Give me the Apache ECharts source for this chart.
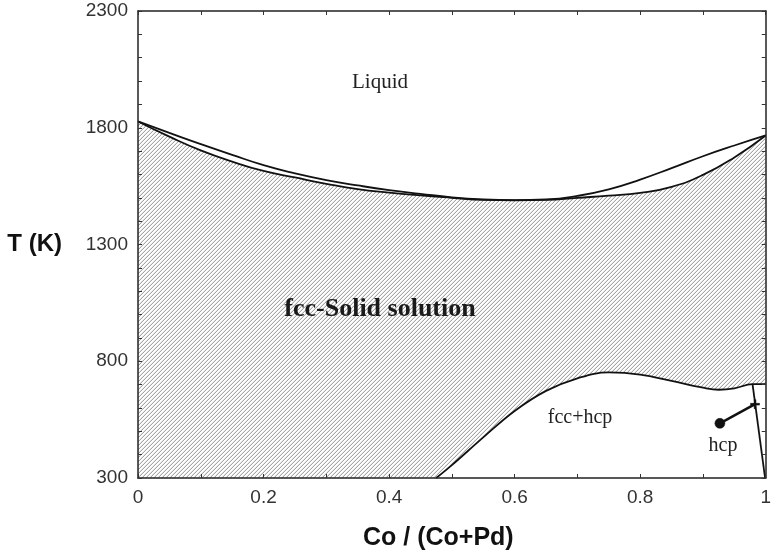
<!DOCTYPE html>
<html>
<head>
<meta charset="utf-8">
<title>Co-Pd phase diagram</title>
<script src="https://cdn.jsdelivr.net/npm/echarts@6/dist/echarts.min.js"></script>
<style>
  html, body { margin: 0; padding: 0; background: #fff; }
  #main { width: 774px; height: 559px; }
</style>
</head>
<body>
<div id="main"></div>
<script>
// 成分 Co/(Co+Pd)
const comp = [0, 0.05, 0.1, 0.15, 0.2, 0.25, 0.3, 0.35, 0.4, 0.45, 0.5,
  0.55, 0.6, 0.65, 0.7, 0.75, 0.8, 0.85, 0.9, 0.95, 1.0];
// 液相线 / 固相线 (K)
const liquidus = [1827, 1778, 1730, 1684, 1640, 1605, 1576, 1553, 1533, 1517, 1502,
  1493, 1490, 1493, 1508, 1536, 1578, 1627, 1678, 1724, 1767];
const solidus = [1827, 1762, 1703, 1655, 1615, 1587, 1560, 1537, 1522, 1510, 1500,
  1491, 1489, 1491, 1500, 1509, 1521, 1547, 1598, 1673, 1767];

// fcc / (fcc+hcp) 边界
const fccHcpX = [0.475, 0.5, 0.55, 0.6, 0.65, 0.7, 0.75, 0.8, 0.85, 0.9, 0.925, 0.95, 0.979, 1.0];
const fccHcpT = [300, 355, 474, 587, 673, 727, 752, 743, 716, 687, 678, 684, 702, 702];

// hcp 边界
const hcpX = [0.979, 0.999];
const hcpT = [702, 300];

// 连线 (圆点 -> 十字)
const tieX = [0.927, 0.983];
const tieT = [534, 616];

// 刻度
const xTicks = [0, 0.2, 0.4, 0.6, 0.8, 1];
const yTicks = [300, 800, 1300, 1800, 2300];

const pairs = (xs, ys) => xs.map((x, i) => [x, ys[i]]);

// 斜线填充图案
function hatch () {
  const n = 4;
  const c = document.createElement('canvas');
  c.width = n; c.height = n;
  const ctx = c.getContext('2d');
  const img = ctx.createImageData(n, n);
  for (let y = 0; y < n; y++) {
    for (let x = 0; x < n; x++) {
      const k = (x + y) % n;
      let v = 255;
      if (k === n - 1) v = 165;
      else if (k === n - 2) v = 232;
      const p = (y * n + x) * 4;
      img.data[p] = v; img.data[p + 1] = v; img.data[p + 2] = v; img.data[p + 3] = 255;
    }
  }
  ctx.putImageData(img, 0, 0);
  return c;
}

const black = '#111';
const axisCommon = {
  type: 'value',
  z: 10,
  splitLine: { show: false },
  axisLine: { show: true, onZero: false, lineStyle: { color: '#222', width: 1.5 } },
  axisTick: { show: true, inside: true, length: 4, lineStyle: { color: '#333' } }
};

const myChart = echarts.init(document.getElementById('main'));

const option = {
  animation: false,
  backgroundColor: '#fff',
  grid: { left: 138, right: 6, top: 11, bottom: 81 },
  xAxis: [
    Object.assign({}, axisCommon, {
      min: 0, max: 1, interval: 0.2, position: 'bottom',
      minorTick: { show: true, splitNumber: 2, length: 4, lineStyle: { color: '#333' } },
      axisLabel: {
        color: '#333', fontSize: 19, fontFamily: 'Liberation Sans', margin: 10,
        formatter: v => (xTicks.some(t => Math.abs(t - v) < 1e-6) ? String(v) : '')
      },
      name: 'Co / (Co+Pd)',
      nameLocation: 'middle',
      nameGap: 48,
      nameTextStyle: {
        color: '#111', fontSize: 25, fontWeight: 'bold', fontFamily: 'Liberation Sans',
        padding: [0, 27, 0, 0]
      }
    }),
    Object.assign({}, axisCommon, {
      min: 0, max: 1, interval: 0.2, position: 'top',
      minorTick: { show: true, splitNumber: 2, length: 4, lineStyle: { color: '#333' } },
      axisLabel: { show: false }
    })
  ],
  yAxis: [
    Object.assign({}, axisCommon, {
      min: 300, max: 2300, interval: 100, position: 'left',
      axisLabel: {
        color: '#333', fontSize: 19, fontFamily: 'Liberation Sans', margin: 10,
        formatter: v => (yTicks.includes(v) ? String(v) : '')
      },
      name: 'T (K)',
      nameLocation: 'middle',
      nameRotate: 0,
      nameGap: 76,
      nameTextStyle: { color: '#111', fontSize: 24, fontWeight: 'bold', fontFamily: 'Liberation Sans' }
    }),
    Object.assign({}, axisCommon, {
      min: 300, max: 2300, interval: 100, position: 'right',
      axisLabel: { show: false }
    })
  ],
  series: [
    {
      name: 'solidus',
      type: 'line',
      data: pairs(comp, solidus),
      smooth: 0.5,
      showSymbol: false,
      z: 2,
      lineStyle: { color: black, width: 1.8 },
      areaStyle: { origin: 'start', opacity: 1, color: { image: hatch(), repeat: 'repeat' } }
    },
    {
      name: 'fcc+hcp',
      type: 'line',
      data: pairs(fccHcpX, fccHcpT),
      smooth: 0.4,
      showSymbol: false,
      z: 3,
      lineStyle: { color: black, width: 1.8 },
      areaStyle: { origin: 'start', opacity: 1, color: '#fff' }
    },
    {
      name: 'liquidus',
      type: 'line',
      data: pairs(comp, liquidus),
      smooth: 0.5,
      showSymbol: false,
      z: 4,
      lineStyle: { color: black, width: 1.8 }
    },
    {
      name: 'hcp',
      type: 'line',
      data: pairs(hcpX, hcpT),
      showSymbol: false,
      z: 4,
      lineStyle: { color: black, width: 1.8 }
    },
    {
      name: 'tie',
      type: 'line',
      data: [
        { value: [tieX[0], tieT[0]], symbol: 'circle', symbolSize: 10 },
        { value: [tieX[1], tieT[1]], symbol: 'path://M-1,-0.2H1V0.2H-1ZM-0.2,-1H0.2V1H-0.2Z', symbolSize: 9 }
      ],
      showSymbol: true,
      z: 5,
      itemStyle: { color: black, borderColor: black, borderWidth: 0.5 },
      lineStyle: { color: black, width: 2.5 }
    }
  ],
  graphic: [
    { type: 'text', x: 380, y: 82, z: 20,
      style: { text: 'Liquid', fill: '#222', font: '21px "Liberation Serif"', align: 'center', verticalAlign: 'middle' } },
    { type: 'text', x: 380, y: 309, z: 20,
      style: { text: 'fcc-Solid solution', fill: '#1a1a1a', font: 'bold 26px "Liberation Serif"', align: 'center', verticalAlign: 'middle' } },
    { type: 'text', x: 580, y: 418, z: 20,
      style: { text: 'fcc+hcp', fill: '#222', font: '20px "Liberation Serif"', align: 'center', verticalAlign: 'middle' } },
    { type: 'text', x: 723, y: 446, z: 20,
      style: { text: 'hcp', fill: '#222', font: '20px "Liberation Serif"', align: 'center', verticalAlign: 'middle' } }
  ]
};

myChart.setOption(option);
</script>
</body>
</html>
